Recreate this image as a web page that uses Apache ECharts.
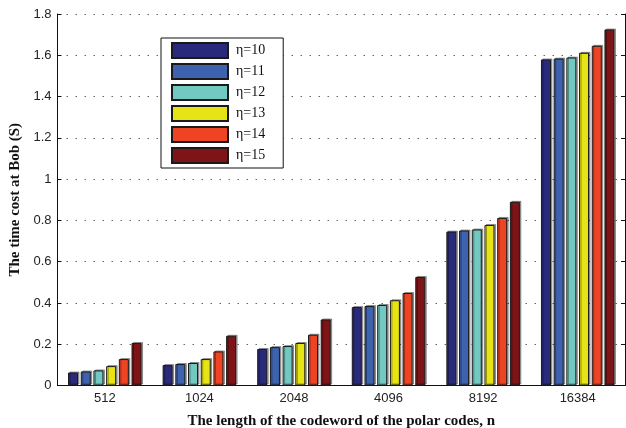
<!DOCTYPE html>
<html>
<head>
<meta charset="utf-8">
<script src="https://cdn.jsdelivr.net/npm/echarts@6/dist/echarts.min.js"></script>
<style>
  html, body { margin: 0; padding: 0; background: #fff; }
  #main { width: 626px; height: 428px; }
</style>
</head>
<body>
<div id="main"></div>
<script>
// codeword lengths n
var categories = ["512", "1024", "2048", "4096", "8192", "16384"];
var seriesNames = ["η=10", "η=11", "η=12", "η=13", "η=14", "η=15"];
var colors = ["#2a2a7c", "#3d62ae", "#72c9c1", "#e6e414", "#ef4423", "#7e1416"];
// time cost at Bob (s), one list per eta
var eta10 = [0.063, 0.099, 0.177, 0.380, 0.746, 1.580];
var eta11 = [0.068, 0.104, 0.186, 0.385, 0.751, 1.584];
var eta12 = [0.073, 0.109, 0.191, 0.390, 0.756, 1.589];
var eta13 = [0.094, 0.128, 0.206, 0.413, 0.778, 1.612];
var eta14 = [0.128, 0.165, 0.246, 0.448, 0.812, 1.646];
var eta15 = [0.206, 0.241, 0.320, 0.526, 0.890, 1.725];
var allValues = [eta10, eta11, eta12, eta13, eta14, eta15];

var myChart = echarts.init(document.getElementById("main"));

var series = [];
for (var i = 0; i < allValues.length; i++) {
  series.push({
    name: seriesNames[i],
    type: "bar",
    barWidth: 10,
    barGap: "27%",
    data: allValues[i],
    itemStyle: {
      color: colors[i],
      borderColor: "#1a1a1a",
      borderWidth: 1,
      shadowColor: "rgba(0,0,0,0.35)",
      shadowOffsetX: 1.5,
      shadowOffsetY: -1,
      shadowBlur: 0
    }
  });
}

var option = {
  animation: false,
  grid: {
    left: 57.5,
    right: 1,
    top: 14,
    bottom: 42.5,
    outerBoundsMode: "none",
    containLabel: false
  },
  legend: {
    orient: "vertical",
    left: 161,
    top: 38,
    itemWidth: 56,
    itemHeight: 15,
    itemGap: 4,
    padding: [4, 18, 4, 10],
    borderColor: "#111",
    borderWidth: 1,
    backgroundColor: "#fff",
    icon: "rect",
    data: seriesNames,
    textStyle: {
      fontFamily: "Liberation Serif",
      fontSize: 14,
      color: "#111",
      padding: [0, 0, 0, 3]
    }
  },
  xAxis: [
    {
      type: "category",
      data: categories,
      position: "bottom",
      name: "The length of the codeword of the polar codes, n",
      nameLocation: "middle",
      nameGap: 28,
      nameTextStyle: {
        fontFamily: "Liberation Serif",
        fontWeight: "bold",
        fontSize: 15,
        color: "#111"
      },
      axisLine: { lineStyle: { color: "#111", width: 1 } },
      axisTick: { inside: true, alignWithLabel: true, length: 4, lineStyle: { color: "#111" } },
      axisLabel: {
        fontFamily: "Liberation Sans",
        fontSize: 13,
        color: "#222",
        margin: 6
      }
    },
    {
      type: "category",
      data: categories,
      position: "top",
      axisLine: { lineStyle: { color: "#111", width: 1 } },
      axisTick: { inside: true, alignWithLabel: true, length: 4, lineStyle: { color: "#111" } },
      axisLabel: { show: false }
    }
  ],
  yAxis: [
    {
      type: "value",
      min: 0,
      max: 1.8,
      interval: 0.2,
      name: "The time cost at Bob (S)",
      nameLocation: "middle",
      nameGap: 26,
      nameTextStyle: {
        fontFamily: "Liberation Serif",
        fontWeight: "bold",
        fontSize: 15,
        color: "#111"
      },
      axisLine: { show: true, lineStyle: { color: "#111", width: 1 } },
      axisTick: { show: true, inside: true, length: 4, lineStyle: { color: "#111" } },
      axisLabel: {
        fontFamily: "Liberation Sans",
        fontSize: 13,
        color: "#222",
        margin: 6
      },
      splitLine: {
        show: true,
        lineStyle: { color: "#666", type: [1.5, 7.5], width: 1 }
      }
    },
    {
      type: "value",
      min: 0,
      max: 1.8,
      interval: 0.2,
      position: "right",
      axisLine: { show: true, lineStyle: { color: "#111", width: 1 } },
      axisTick: { show: true, inside: true, length: 4, lineStyle: { color: "#111" } },
      axisLabel: { show: false },
      splitLine: { show: false }
    }
  ],
  series: series
};

myChart.setOption(option);
</script>
</body>
</html>
